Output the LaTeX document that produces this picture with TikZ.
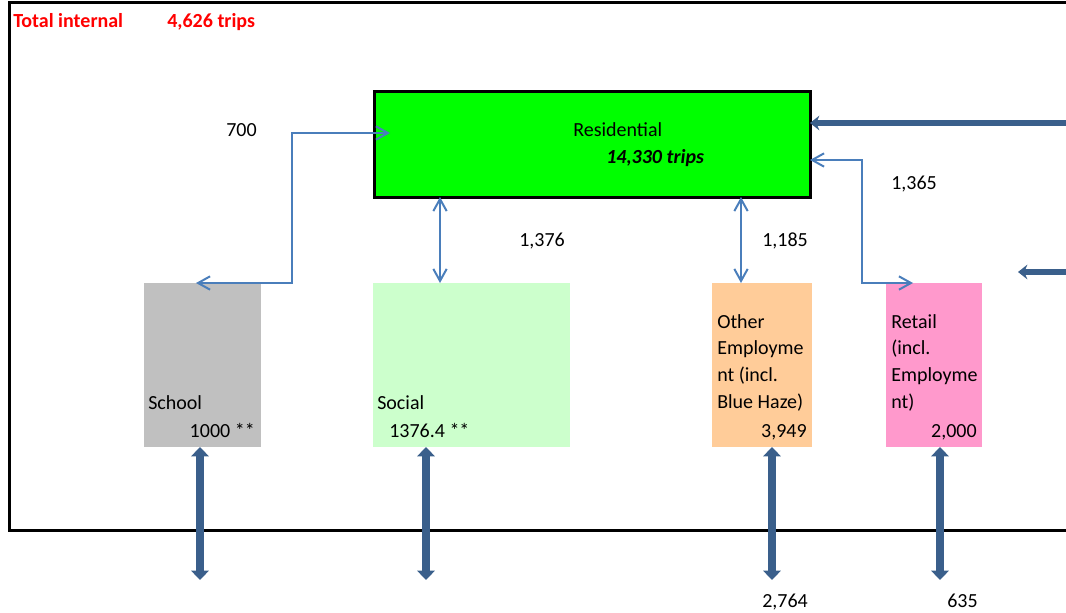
\documentclass[tikz,border=0pt]{standalone}
\usepackage{fontspec}
\setmainfont{Carlito}
\usetikzlibrary{arrows.meta, calc}

\definecolor{resgreen}{HTML}{00FF00}
\definecolor{schoolgray}{HTML}{C0C0C0}
\definecolor{socialgreen}{HTML}{CCFFCC}
\definecolor{otherorange}{HTML}{FFCC99}
\definecolor{retailpink}{HTML}{FF99CC}
\definecolor{flowblue}{HTML}{4A7EBB}
\definecolor{linkblue}{HTML}{3A5F8B}

\begin{document}
\begin{tikzpicture}[
        x=0.75pt, y=-0.75pt,
        font=\fontsize{15}{20}\selectfont,
        hub/.style={draw, line width=2.25pt, fill=resgreen, anchor=north west, inner sep=0pt, outer sep=0pt, minimum width=327pt, minimum height=78.75pt},
        zone/.style={anchor=north west, inner sep=0pt, outer sep=0pt, minimum height=123pt},
        tag/.style={anchor=base west, inner sep=0pt, align=left},
        num/.style={anchor=base east, inner sep=0pt},
        flow/.style={draw=flowblue, line width=1.5pt, arrows={Straight Barb[length=9pt,width=10pt]-Straight Barb[length=9pt,width=10pt]}},
        link/.style={draw=linkblue, line width=6pt, arrows={Triangle[length=7pt,width=13pt]-Triangle[length=7pt,width=13pt]}},
        feed/.style={draw=linkblue, line width=5pt, -{Stealth[length=7pt,width=11pt]}},
        edgeline/.style={line width=2.25pt}
    ]
        \useasboundingbox (0,0) rectangle (1066,613);

        \draw[edgeline] (1070,3) -- (9,3) -- (9,530) -- (1070,530);

        \node[tag, text=red] (title) at (13,28) {\bfseries Total internal};
        \node[tag, text=red] (total) at (167,28) {\bfseries 4,626 trips};

        \node[hub] (res) at (374,92) {};
        \node[tag] (resname) at (573,137) {Residential};
        \node[tag] (restrips) at (606,163) {\bfseries\itshape 14,330 trips};

        \node[zone, fill=schoolgray, minimum width=87.75pt] (school) at (144,283) {};
        \node[zone, fill=socialgreen, minimum width=147.75pt] (social) at (373,283) {};
        \node[zone, fill=otherorange, minimum width=75pt] (other) at (712,283) {};
        \node[zone, fill=retailpink, minimum width=72pt] (retail) at (886,283) {};

        \node[tag] (schoolname) at (148,409) {School};
        \node[num] (schoolval) at (255,437) {1000 **};
        \node[tag] (socialname) at (377,409) {Social};
        \node[tag] (socialval) at (389,437) {1376.4 **};
        \node[tag] (othername) at (717,408) {Other\\Employme\\nt (incl.\\Blue Haze)};
        \node[num] (otherval) at (807,437) {3,949};
        \node[tag] (retailname) at (891,408) {Retail\\(incl.\\Employme\\nt)};
        \node[num] (retailval) at (977,437) {2,000};

        \node[tag] (n700) at (226,137) {700};
        \node[tag] (n1376) at (519,246) {1,376};
        \node[tag] (n1185) at (762,246) {1,185};
        \node[tag] (n1365) at (891,190) {1,365};
        \node[tag] (n2764) at (762,607) {2,764};
        \node[tag] (n635) at (947,607) {635};

        \coordinate (bend700) at (292,133);
        \draw[flow] (196,0 |- school.north) -| (bend700) -- ($(res.west |- bend700)+(16,0)$);
        \draw[flow] (440,0 |- res.south) -- (440,0 |- social.north);
        \draw[flow] (741,0 |- res.south) -- (741,0 |- other.north);
        \coordinate (bend1365) at (862,160);
        \draw[flow] (res.east |- bend1365) -- (bend1365) |- (913,0 |- retail.north);

        \foreach \n/\x in {school/200, social/426, other/772, retail/940} {
            \coordinate (\n-out) at (\x,580);
            \draw[link] (\x,0 |- \n.south) -- (\n-out);
        }

        \coordinate (resin) at (1070,123);
        \draw[feed] (resin) -- (res.east |- resin);
        \coordinate (outin) at (1070,272);
        \coordinate (outtip) at (1018,272);
        \draw[feed] (outin) -- (outtip);

    \end{tikzpicture}
\end{document}
